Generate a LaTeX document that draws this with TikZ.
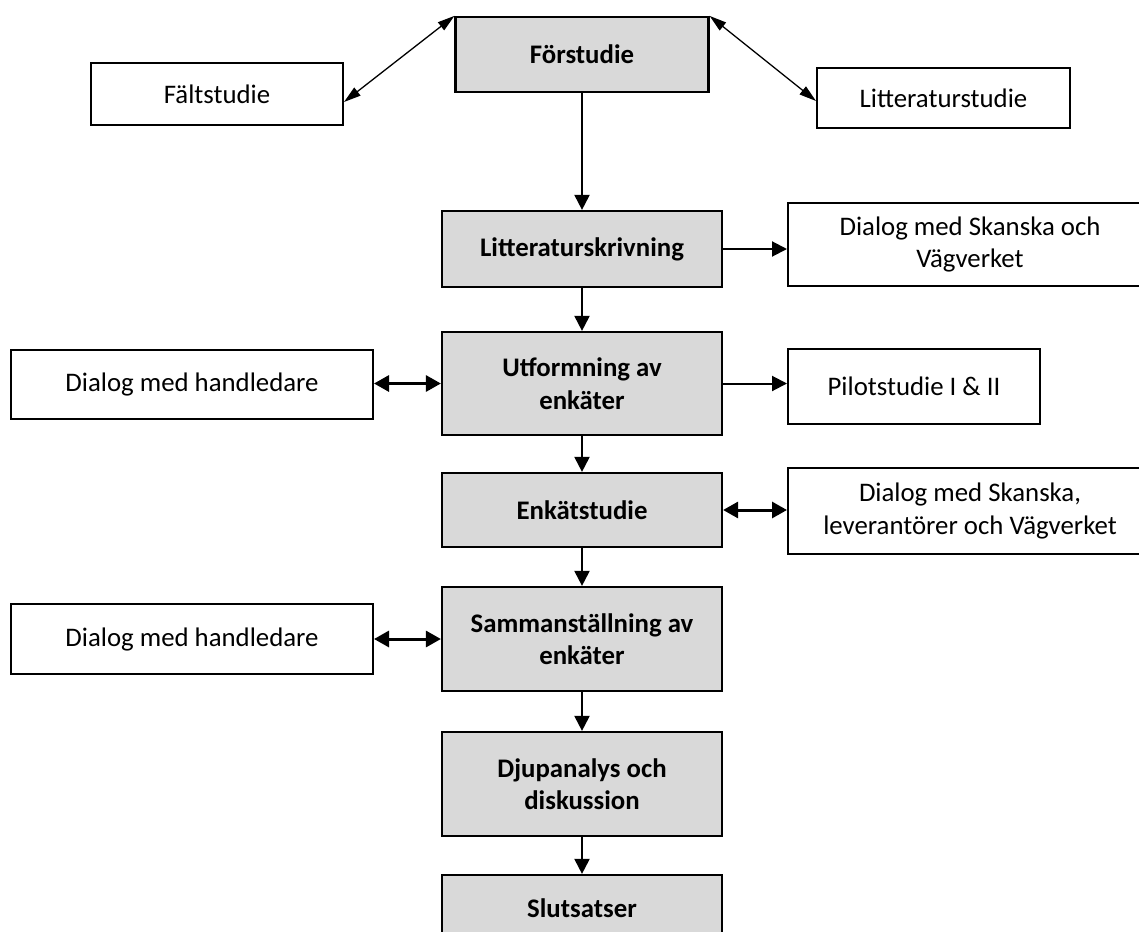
\documentclass[tikz,border=0pt]{standalone}
\usepackage{fontspec}
\setmainfont{Carlito}
\usetikzlibrary{arrows.meta}
\definecolor{boxgray}{HTML}{D9D9D9}
\newcommand{\fsz}{\fontsize{26.8}{32.5}\selectfont}
\begin{document}
\begin{tikzpicture}[x=1pt,y=-1pt,
  gbox/.style={draw, line width=2.2pt, fill=boxgray, inner sep=0pt, align=center, font=\fsz\bfseries},
  wbox/.style={draw, line width=2pt, fill=white, inner sep=0pt, align=center, font=\fsz},
  arr/.style={line width=2pt, -{Triangle[length=15pt,width=15pt]}},
  darr/.style={line width=3pt, {Triangle[length=15pt,width=16pt]}-{Triangle[length=15pt,width=16pt]}},
  diag/.style={line width=1.3pt, {Triangle[length=17pt,width=10pt]}-{Triangle[length=17pt,width=10pt]}}
]
\clip (0,0) rectangle (1139,931);
\fill[white] (0,0) rectangle (1139,931);

\node[gbox, minimum width=253pt, minimum height=75pt] (F) at (582,54.5) {Förstudie};
\node[wbox, minimum width=252pt, minimum height=62pt] (Falt) at (217,94) {Fältstudie};
\node[wbox, minimum width=253pt, minimum height=60pt] (Lit) at (943.5,98) {Litteraturstudie};
\node[gbox, minimum width=280pt, minimum height=76pt] (LS) at (582,249) {Litteraturskrivning};
\node[wbox, minimum width=364pt, minimum height=83pt] (DS1) at (970,244.5) {Dialog med Skanska och\\Vägverket};
\node[gbox, minimum width=280pt, minimum height=103pt] (U) at (582,383.5) {Utformning av\\enkäter};
\node[wbox, minimum width=362pt, minimum height=69pt] (DH1) at (192,384.5) {Dialog med handledare};
\node[wbox, minimum width=252pt, minimum height=75pt] (P) at (914,386.5) {Pilotstudie I \& II};
\node[gbox, minimum width=280pt, minimum height=74pt] (E) at (582,510) {Enkätstudie};
\node[wbox, minimum width=364pt, minimum height=86pt] (DS2) at (970,511) {Dialog med Skanska,\\leverantörer och Vägverket};
\node[gbox, minimum width=280pt, minimum height=104pt] (S) at (582,639) {Sammanställning av\\enkäter};
\node[wbox, minimum width=362pt, minimum height=70pt] (DH2) at (192,639) {Dialog med handledare};
\node[gbox, minimum width=280pt, minimum height=104pt] (D) at (582,784) {Djupanalys och\\diskussion};
\node[gbox, minimum width=280pt, minimum height=66pt] (SL) at (582,908) {Slutsatser};

\draw[diag] ([yshift=-8pt]Falt.east) -- (F.north west);
\draw[diag] (F.north east) -- ([yshift=-3pt]Lit.west);
\draw[arr] (F.south) -- (LS.north);
\draw[arr] (LS.east) -- (LS.east -| DS1.west);
\draw[arr] (LS.south) -- (U.north);
\draw[darr] (DH1.east |- U.east) -- (U.west);
\draw[arr] (U.east) -- (U.east -| P.west);
\draw[arr] (U.south) -- (E.north);
\draw[darr] (E.east) -- (E.east -| DS2.west);
\draw[arr] (E.south) -- (S.north);
\draw[darr] (DH2.east) -- (DH2.east -| S.west);
\draw[arr] (S.south) -- (D.north);
\draw[arr] (D.south) -- (SL.north);
\end{tikzpicture}
\end{document}
